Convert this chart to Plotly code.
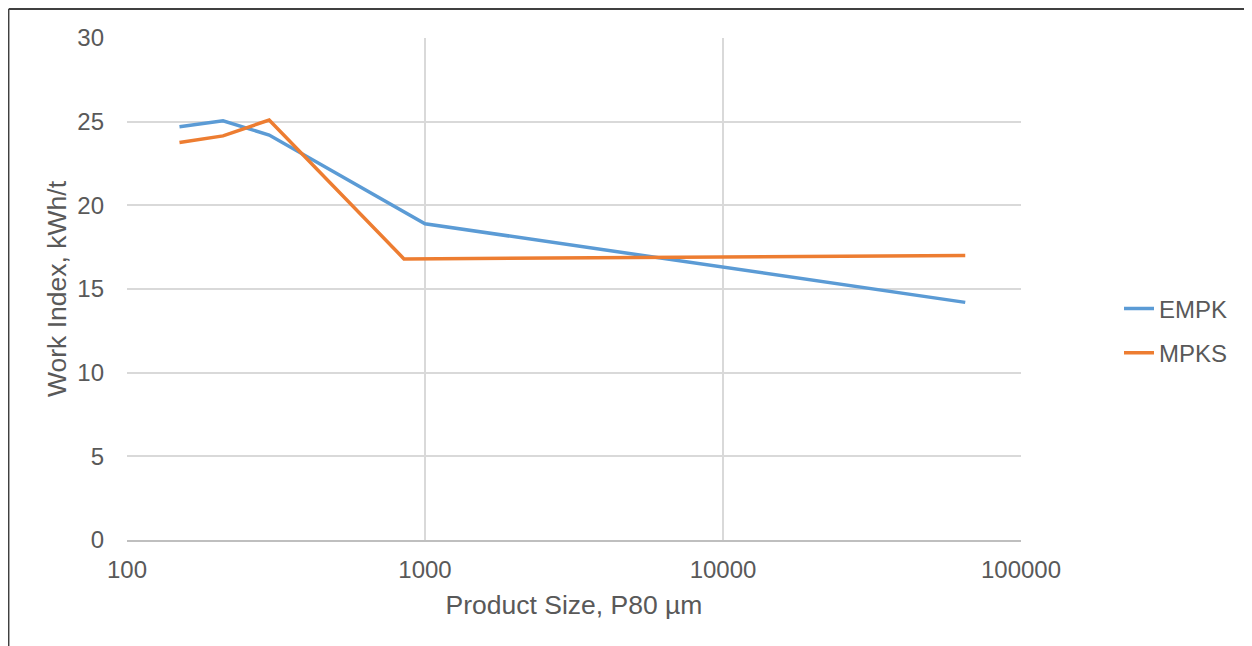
import plotly.graph_objects as go

# Data
empk_x = [150, 210, 300, 1000, 65000]
empk_y = [24.7, 25.05, 24.2, 18.9, 14.2]
mpks_x = [150, 210, 300, 850, 65000]
mpks_y = [23.75, 24.15, 25.1, 16.8, 17.0]
x_ticks = [100, 1000, 10000, 100000]
x_tick_labels = ["100", "1000", "10000", "100000"]

FONT = "Liberation Sans, Arial, sans-serif"
GREY = "#595959"

fig = go.Figure()
fig.add_trace(go.Scatter(x=empk_x, y=empk_y, mode="lines", name="EMPK",
                         line=dict(color="#5B9BD5", width=3.5), legendgroup="a"))
fig.add_trace(go.Scatter(x=mpks_x, y=mpks_y, mode="lines", name="MPKS",
                         line=dict(color="#ED7D31", width=3.5), legendgroup="b"))

OFF = 8  # page body margin
PW, PH = 1252, 646
L, R, T, B = 127, 1021, 38, 540  # plot area in page pixels
W, H = PW - OFF, PH - OFF
pw, ph = R - L, B - T

def px(x):
    return (x - L) / pw

def py(y):
    return (B - y) / ph

# outer chart border (top and left edges visible)
fig.add_shape(type="line", xref="paper", yref="paper", x0=px(8.7), y0=py(9), x1=px(PW + 5), y1=py(9),
              line=dict(color="#000000", width=1.5))
fig.add_shape(type="line", xref="paper", yref="paper", x0=px(8.7), y0=py(9), x1=px(8.7), y1=py(PH + 5),
              line=dict(color="#404040", width=1.5))

fig.update_layout(
    width=W, height=H,
    margin=dict(l=L - OFF, r=PW - R, t=T - OFF, b=PH - B, pad=0),
    paper_bgcolor="white", plot_bgcolor="white",
    font=dict(family=FONT, size=24, color=GREY),
    showlegend=True,
    legend=dict(x=px(1119), y=py(331), xanchor="left", yanchor="middle",
                font=dict(family=FONT, size=24, color=GREY),
                traceorder="grouped", tracegroupgap=10, bgcolor="rgba(0,0,0,0)"),
    xaxis=dict(type="log", range=[2, 5], tickvals=x_ticks, ticktext=x_tick_labels,
               showgrid=True, gridcolor="#D9D9D9", gridwidth=1.5,
               showline=True, linecolor="#BFBFBF", linewidth=2,
               ticks="", zeroline=False, ticklabelstandoff=7,
               tickfont=dict(family=FONT, size=24, color=GREY),
               title=dict(text="Product Size, P80 µm", standoff=14,
                          font=dict(family=FONT, size=26.5, color=GREY))),
    yaxis=dict(range=[0, 30], dtick=5, showgrid=True, gridcolor="#D9D9D9", gridwidth=1.5,
               showline=False, zeroline=False, ticks="",
               ticklabelstandoff=22,
               tickfont=dict(family=FONT, size=24, color=GREY),
               title=dict(text="Work Index, kWh/t", standoff=3,
                          font=dict(family=FONT, size=26.5, color=GREY))),
)

fig.write_html("out.html")
